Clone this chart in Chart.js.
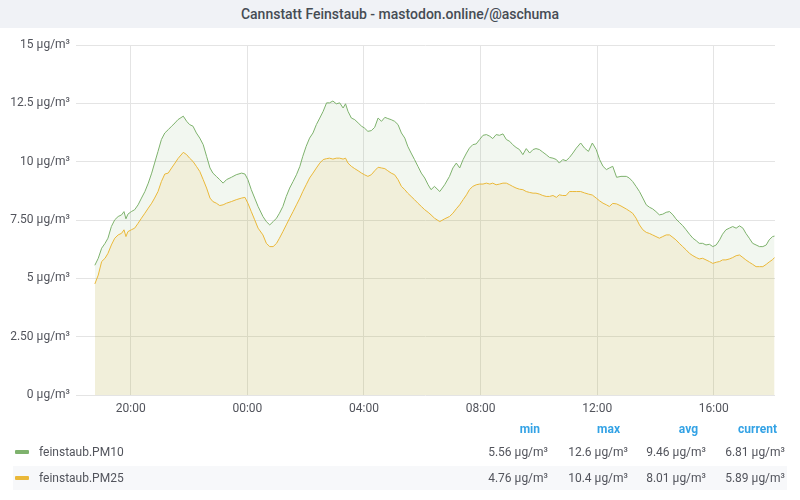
<!DOCTYPE html>
<html>
<head>
<meta charset="utf-8">
<script src="https://cdn.jsdelivr.net/npm/chart.js@4"></script>
<style>
    body { margin: 0; background: #fff; font-family: Roboto, sans-serif; }
    #wrap { position: relative; width: 800px; height: 500px; overflow: hidden; }
    #title { position: absolute; left: 0; top: 0; width: 800px; height: 28px; background: #f0f2f6;
        text-align: center; line-height: 28px; font-size: 14px; font-weight: 500; color: #464c54; }
    #myChart { position: absolute; left: 0; top: 28px; }
    .cell { position: absolute; height: 24px; line-height: 24px; font-size: 12px; color: #52545c; white-space: nowrap; }
    .head { color: #33a2e5; font-weight: bold; text-align: right; }
    .val { text-align: right; }
    .rowbg { position: absolute; left: 13px; width: 774px; height: 24px; background: #f7f8fa; }
    .swatch { position: absolute; width: 14px; height: 4px; border-radius: 1px; }
</style>
</head>
<body>
<div id="wrap">
    <div id="title">Cannstatt Feinstaub - mastodon.online/@aschuma</div>
    <canvas id="myChart" width="800" height="391"></canvas>
    <div id="legend"></div>
</div>
<script>
// sample times (local), first day 18:46 until 18:05 the next day
var times = [
    "18:46","18:53","19:00","19:07","19:13","19:20","19:27","19:34","19:41","19:46","19:50","19:54",
    "20:01","20:08","20:15","20:22","20:29","20:36","20:43","20:49","20:56","21:03","21:10","21:17",
    "21:24","21:31","21:37","21:48","21:55","22:01","22:08","22:15","22:22","22:29","22:36","22:43",
    "22:49","22:56","23:03","23:10","23:17","23:27","23:37","23:48","23:55","00:01","00:08","00:15","00:22",
    "00:32","00:39","00:46","00:53","01:00","01:06","01:13","01:20","01:27","01:34","01:41","01:48","01:54",
    "02:01","02:08","02:15","02:22","02:29","02:36","02:43","02:49","02:56","03:03","03:10","03:17","03:22",
    "03:27","03:34","03:41","03:48","03:55","04:01","04:08","04:15","04:22","04:29","04:36","04:43","04:49",
    "04:56","05:03","05:10","05:17","05:24","05:30","05:37","05:44","05:51","05:58","06:05","06:12","06:18",
    "06:25","06:36","06:46","06:56","07:03","07:10","07:17","07:24","07:31","07:37","07:44","07:51","07:58",
    "08:05","08:12","08:19","08:25","08:32","08:39","08:46","08:53","09:00","09:06","09:13","09:20","09:27",
    "09:34","09:41","09:48","09:54","10:01","10:08","10:15","10:22","10:29","10:36","10:42","10:49","10:56",
    "11:03","11:10","11:17","11:26","11:34","11:42","11:50","11:58","12:05","12:12","12:19",
    "12:25","12:32","12:40","12:49","13:00","13:06","13:13","13:20","13:27","13:34","13:41","13:48","13:54",
    "14:01","14:08","14:15","14:22","14:29","14:36","14:42","14:49","14:56","15:03","15:10","15:17","15:24",
    "15:30","15:37","15:44","15:51","15:58","16:05","16:12","16:18","16:25","16:32","16:39","16:46","16:53",
    "17:00","17:06","17:13","17:20","17:27","17:34","17:41","17:48","17:54","18:01","18:05"
];
var pm10 = [
    5.56,5.86,6.29,6.50,6.72,7.22,7.51,7.65,7.72,7.86,7.55,7.75,
    7.86,7.94,8.15,8.44,8.72,9.08,9.51,9.94,10.44,10.95,11.23,11.37,
    11.52,11.66,11.80,11.95,11.73,11.59,11.52,11.23,11.01,10.73,10.23,9.73,
    9.51,9.37,9.23,9.08,9.23,9.33,9.44,9.51,9.47,9.23,8.80,8.44,8.08,
    7.65,7.43,7.29,7.43,7.58,7.79,8.08,8.51,8.87,9.15,9.44,9.80,10.23,
    10.66,11.01,11.23,11.59,11.87,12.16,12.52,12.52,12.60,12.48,12.52,12.30,12.48,
    12.16,11.87,11.80,11.66,11.52,11.44,11.30,11.33,11.47,11.87,11.73,11.90,11.85,
    11.80,11.73,11.59,11.23,11.01,10.66,10.37,10.09,9.80,9.51,9.30,9.01,8.80,
    8.94,8.72,9.01,9.37,9.73,9.94,9.73,10.09,10.37,10.58,10.73,10.76,10.95,
    11.13,11.16,11.09,10.99,11.16,11.13,11.19,10.95,10.87,10.73,10.61,10.52,10.30,
    10.56,10.37,10.52,10.56,10.52,10.41,10.30,10.18,10.15,10.09,9.94,10.09,10.04,
    10.18,10.37,10.58,10.80,10.58,10.44,10.80,10.52,10.09,9.80,9.66,
    9.73,9.80,9.33,9.37,9.37,9.30,9.15,8.94,8.72,8.44,8.15,8.04,7.98,
    7.86,7.72,7.75,7.83,7.86,7.72,7.55,7.40,7.26,7.08,6.89,6.72,6.61,
    6.50,6.50,6.43,6.46,6.36,6.43,6.65,6.89,7.08,7.15,7.22,7.15,7.25,
    7.15,6.93,6.72,6.50,6.43,6.36,6.36,6.43,6.65,6.79,6.81
];
var pm25 = [
    4.76,5.14,5.72,5.86,6.07,6.43,6.72,6.86,6.93,7.08,6.79,7.00,
    7.08,7.15,7.36,7.58,7.79,8.01,8.22,8.44,8.72,9.15,9.47,9.51,
    9.73,9.94,10.13,10.40,10.30,10.15,10.01,9.80,9.58,9.23,8.87,8.44,
    8.29,8.22,8.12,8.15,8.22,8.29,8.37,8.44,8.47,8.22,7.86,7.51,7.15,
    6.86,6.50,6.36,6.36,6.50,6.72,7.00,7.29,7.58,7.86,8.15,8.44,8.72,
    9.01,9.30,9.51,9.73,9.94,10.09,10.13,10.15,10.11,10.15,10.15,10.11,10.15,
    9.94,9.80,9.70,9.61,9.51,9.44,9.37,9.44,9.61,9.76,9.73,9.70,9.61,
    9.51,9.44,9.23,8.94,8.80,8.65,8.51,8.37,8.22,8.08,7.94,7.83,7.72,
    7.58,7.43,7.55,7.65,7.79,7.98,8.15,8.37,8.58,8.80,8.94,9.01,9.04,
    9.04,9.08,9.04,9.08,9.01,9.04,9.08,9.08,9.01,8.94,8.87,8.82,8.80,
    8.72,8.68,8.65,8.65,8.61,8.55,8.51,8.51,8.55,8.47,8.58,8.55,8.55,
    8.72,8.72,8.72,8.72,8.66,8.61,8.57,8.44,8.32,8.22,8.15,
    8.08,8.21,8.19,8.10,7.97,7.89,7.79,7.58,7.29,7.08,6.97,6.92,6.86,
    6.79,6.72,6.79,6.86,6.86,6.75,6.65,6.50,6.36,6.22,6.07,5.97,5.89,
    5.83,5.86,5.79,5.72,5.64,5.69,5.72,5.79,5.79,5.83,5.89,5.97,6.00,
    5.89,5.79,5.69,5.60,5.50,5.50,5.50,5.60,5.70,5.80,5.89
];
var yTickLabels = ["0 µg/m³", "2.50 µg/m³", "5 µg/m³", "7.50 µg/m³", "10 µg/m³", "12.5 µg/m³", "15 µg/m³"];
var seriesNames = ["feinstaub.PM10", "feinstaub.PM25"];
var seriesColors = ["#7eb26d", "#eab839"];
var statHeads = ["min", "max", "avg", "current"];
var statValues = [
    ["5.56 µg/m³", "12.6 µg/m³", "9.46 µg/m³", "6.81 µg/m³"],
    ["4.76 µg/m³", "10.4 µg/m³", "8.01 µg/m³", "5.89 µg/m³"]
];

// turn "HH:MM" into hours, rolling over past midnight
function toHours(list) {
    var out = [];
    var day = 0;
    var last = -1;
    for (var i = 0; i < list.length; i++) {
        var p = list[i].split(":");
        var h = parseInt(p[0]) + parseInt(p[1]) / 60;
        if (h + day * 24 < last) day++;
        last = h + day * 24;
        out.push(last);
    }
    return out;
}
var hours = toHours(times);

function points(vals) {
    var arr = [];
    for (var i = 0; i < vals.length; i++) arr.push({ x: hours[i], y: vals[i] });
    return arr;
}

function pad(n) { return (n < 10 ? "0" : "") + n; }

var tickColor = "#52545c";
var gridColor = "#e4e4e4";

const ctx = document.getElementById('myChart').getContext('2d');
const myChart = new Chart(ctx, {
    type: 'line',
    data: {
        datasets: [{
            label: seriesNames[0],
            data: points(pm10),
            borderColor: seriesColors[0],
            backgroundColor: 'rgba(126, 178, 109, 0.1)',
            borderWidth: 1,
            pointRadius: 0,
            fill: 'origin',
            order: 2
        }, {
            label: seriesNames[1],
            data: points(pm25),
            borderColor: seriesColors[1],
            backgroundColor: 'rgba(234, 184, 57, 0.12)',
            borderWidth: 1,
            pointRadius: 0,
            fill: 'origin',
            order: 1
        }]
    },
    options: {
        responsive: false,
        animation: false,
        layout: { padding: { top: 17, right: 25, left: 0, bottom: 0 } },
        plugins: { legend: { display: false }, tooltip: { enabled: false } },
        scales: {
            x: {
                type: 'linear',
                min: 18.12,
                max: 42.1,
                border: { display: false },
                grid: { color: gridColor, drawTicks: false },
                ticks: {
                    stepSize: 4,
                    includeBounds: false,
                    maxRotation: 0,
                    padding: 7,
                    color: tickColor,
                    font: { family: 'Roboto', size: 12 },
                    callback: function (v) { return pad(v % 24) + ":00"; }
                },
                afterFit: function (scale) { scale.height = 24; }
            },
            y: {
                min: 0,
                max: 15,
                border: { display: false },
                grid: { color: gridColor, drawTicks: false },
                ticks: {
                    stepSize: 2.5,
                    padding: 6,
                    color: tickColor,
                    font: { family: 'Roboto', size: 12 },
                    callback: function (v) { return yTickLabels[Math.round(v / 2.5)]; }
                },
                afterFit: function (scale) { scale.width = 76; }
            }
        }
    }
});

// legend table under the plot
var legend = document.getElementById('legend');
var colRight = [548, 628, 706, 785];
var headTop = 417;
var rowTop = [440, 466];
var html = '';
for (var c = 0; c < statHeads.length; c++) {
    html += '<div class="cell head" style="left:' + (colRight[c] - 90) + 'px;width:82px;top:' + headTop + 'px">' + statHeads[c] + '</div>';
}
for (var r = 0; r < seriesNames.length; r++) {
    if (r % 2 == 1) html += '<div class="rowbg" style="top:' + rowTop[r] + 'px"></div>';
    html += '<div class="swatch" style="left:15px;top:' + (rowTop[r] + 10) + 'px;background:' + seriesColors[r] + '"></div>';
    html += '<div class="cell" style="left:39px;top:' + rowTop[r] + 'px">' + seriesNames[r] + '</div>';
    for (var c = 0; c < statHeads.length; c++) {
        html += '<div class="cell val" style="left:' + (colRight[c] - 90) + 'px;width:90px;top:' + rowTop[r] + 'px">' + statValues[r][c] + '</div>';
    }
}
legend.innerHTML = html;
</script>
</body>
</html>
